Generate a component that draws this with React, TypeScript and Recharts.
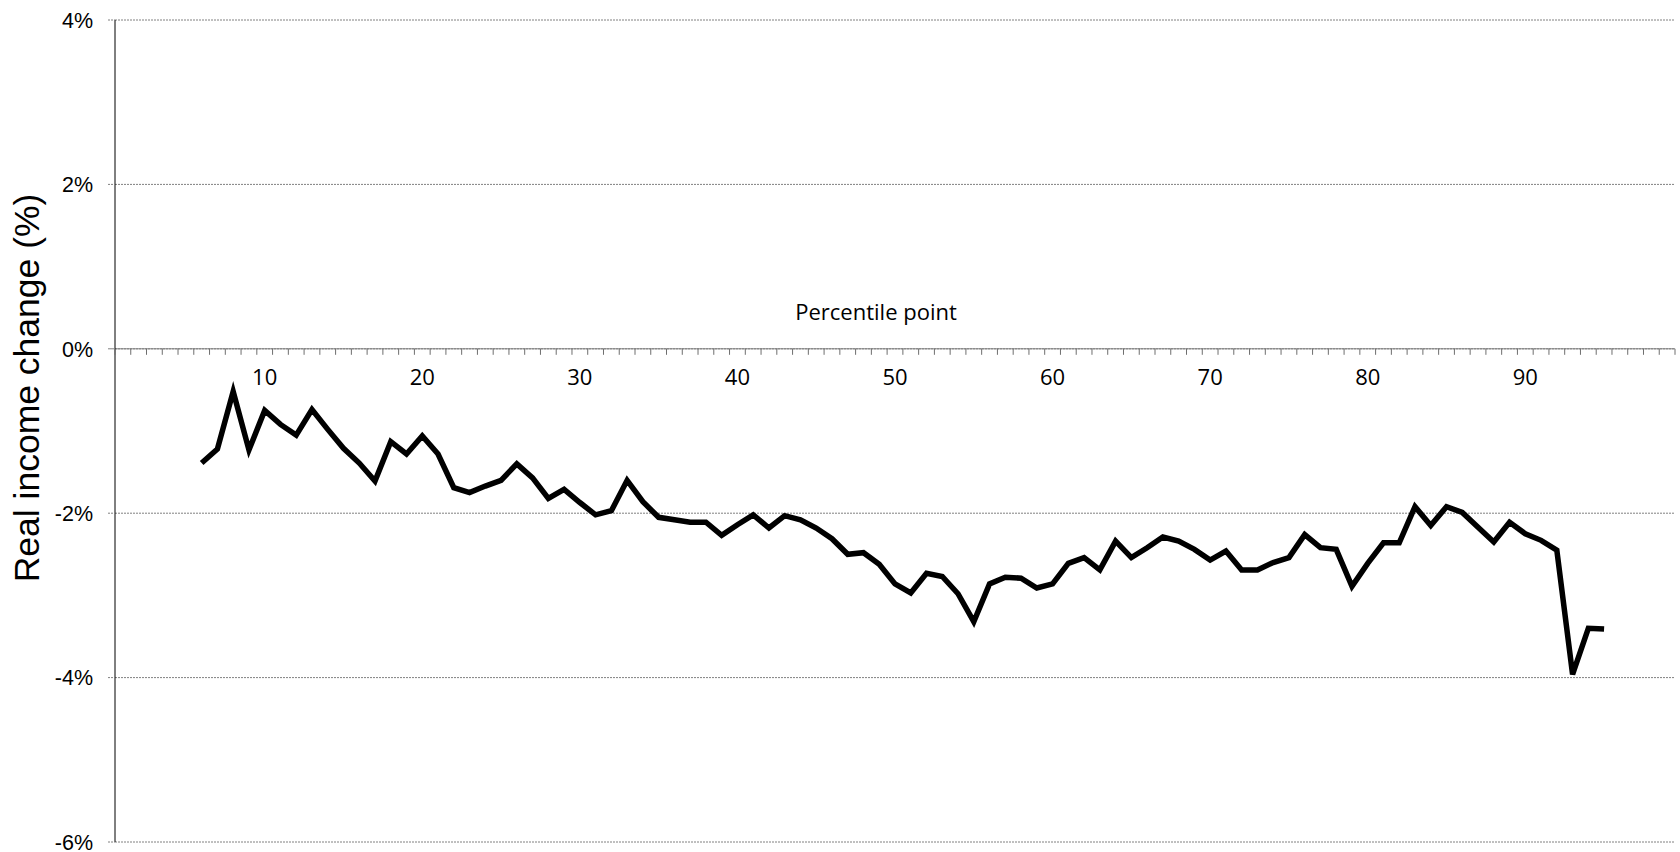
import React from 'react';
import { LineChart, Line, XAxis, YAxis, CartesianGrid, ReferenceLine } from 'recharts';

const percentiles = [
  6, 7, 8, 9, 10, 11, 12, 13, 14, 15, 16, 17, 18, 19, 20, 21, 22, 23, 24, 25,
  26, 27, 28, 29, 30, 31, 32, 33, 34, 35, 36, 37, 38, 39, 40, 41, 42, 43, 44, 45,
  46, 47, 48, 49, 50, 51, 52, 53, 54, 55, 56, 57, 58, 59, 60, 61, 62, 63, 64, 65,
  66, 67, 68, 69, 70, 71, 72, 73, 74, 75, 76, 77, 78, 79, 80, 81, 82, 83, 84, 85,
  86, 87, 88, 89, 90, 91, 92, 93, 94, 95,
];

const incomeChange = [
  -1.39, -1.22, -0.52, -1.23, -0.75, -0.92, -1.05, -0.74, -0.98, -1.21,
  -1.39, -1.61, -1.13, -1.28, -1.06, -1.28, -1.69, -1.75, -1.67, -1.6,
  -1.4, -1.57, -1.82, -1.71, -1.87, -2.02, -1.97, -1.6, -1.86, -2.05,
  -2.08, -2.11, -2.11, -2.27, -2.14, -2.02, -2.18, -2.03, -2.08, -2.18,
  -2.31, -2.5, -2.48, -2.62, -2.86, -2.97, -2.73, -2.77, -2.98, -3.32,
  -2.86, -2.78, -2.79, -2.91, -2.86, -2.61, -2.54, -2.69, -2.34, -2.54,
  -2.42, -2.29, -2.34, -2.44, -2.57, -2.46, -2.69, -2.69, -2.6, -2.54,
  -2.26, -2.42, -2.44, -2.89, -2.61, -2.36, -2.36, -1.92, -2.15, -1.92,
  -1.99, -2.17, -2.35, -2.11, -2.25, -2.33, -2.45, -3.96, -3.4, -3.41,
];

const xLabelTicks = [10, 20, 30, 40, 50, 60, 70, 80, 90];
const yTicks = [-6, -4, -2, 0, 2, 4];
const xDomain: [number, number] = [0.5, 99.5];
const yDomain: [number, number] = [-6, 4];

const xTitle = 'Percentile point';
const yTitle = 'Real income change (%)';

// category boundaries (tick marks between percentiles)
const boundaryTicks = Array.from({ length: 100 }, (_, i) => i + 0.5);

const data = percentiles.map((p, i) => ({ p, v: incomeChange[i] }));

const W = 1680;
const H = 852;
const MARGIN = { top: 20, right: 5, bottom: 9, left: 0 };
const X_AXIS_H = 1;
const Y_AXIS_W = 115;
const PLOT_LEFT = MARGIN.left + Y_AXIS_W;
const PLOT_H = H - MARGIN.top - MARGIN.bottom - X_AXIS_H;
const ZERO_Y = MARGIN.top + (PLOT_H * (yDomain[1] - 0)) / (yDomain[1] - yDomain[0]);

const GRID = '#808080';

const XTick = (props: any) => {
  const { x, payload } = props;
  const v = payload.value;
  if (Number.isInteger(v)) {
    return (
      <text
        x={x}
        y={ZERO_Y + 36}
        textAnchor="middle"
        fontFamily="'Open Sans', 'Noto Sans', sans-serif"
        fontSize={22}
        fill="#000"
      >
        {v}
      </text>
    );
  }
  return <line x1={x} x2={x} y1={ZERO_Y} y2={ZERO_Y + 6} stroke="#6e6e6e" strokeWidth={1} />;
};

const YTick = (props: any) => {
  const { y, payload } = props;
  const v = payload.value;
  return (
    <g>
      <line
        x1={PLOT_LEFT - 7}
        x2={PLOT_LEFT}
        y1={y}
        y2={y}
        stroke={GRID}
        strokeWidth={1}
        strokeDasharray={v === 0 ? undefined : '2 1'}
      />
      <text
        x={93}
        y={y}
        dy="0.36em"
        textAnchor="end"
        fontFamily="'Liberation Sans', Arial, sans-serif"
        fontSize={21.5}
        fill="#000"
      >
        {`${v}%`}
      </text>
    </g>
  );
};

export default function App() {
  return (
    <div style={{ position: 'absolute', left: 0, top: 0, width: W, height: H, background: '#fff' }}>
      <LineChart width={W} height={H} data={data} margin={MARGIN}>
        <CartesianGrid vertical={false} stroke={GRID} strokeDasharray="2 1" />
        <XAxis
          dataKey="p"
          type="number"
          domain={xDomain}
          ticks={[...boundaryTicks, ...xLabelTicks]}
          interval={0}
          height={X_AXIS_H}
          axisLine={false}
          tickLine={false}
          tick={<XTick />}
        />
        <YAxis
          type="number"
          domain={yDomain}
          ticks={yTicks}
          width={Y_AXIS_W}
          interval={0}
          axisLine={{ stroke: '#000', strokeWidth: 1 }}
          tickLine={false}
          tick={<YTick />}
          label={{
            content: () => (
              <text
                x={39}
                y={388}
                transform="rotate(-90 39 388)"
                textAnchor="middle"
                fontFamily="'Liberation Sans', Arial, sans-serif"
                fontSize={35.5}
                fill="#000"
              >
                {yTitle}
              </text>
            ),
          }}
        />
        <ReferenceLine
          y={0}
          stroke={GRID}
          strokeWidth={1}
          label={{
            content: () => (
              <text
                x={876}
                y={ZERO_Y - 29}
                textAnchor="middle"
                fontFamily="'Open Sans', 'Noto Sans', sans-serif"
                fontSize={22}
                fill="#000"
              >
                {xTitle}
              </text>
            ),
          }}
        />
        <Line
          type="linear"
          dataKey="v"
          stroke="#000"
          strokeWidth={5.5}
          dot={false}
          activeDot={false}
          isAnimationActive={false}
        />
      </LineChart>
    </div>
  );
}
